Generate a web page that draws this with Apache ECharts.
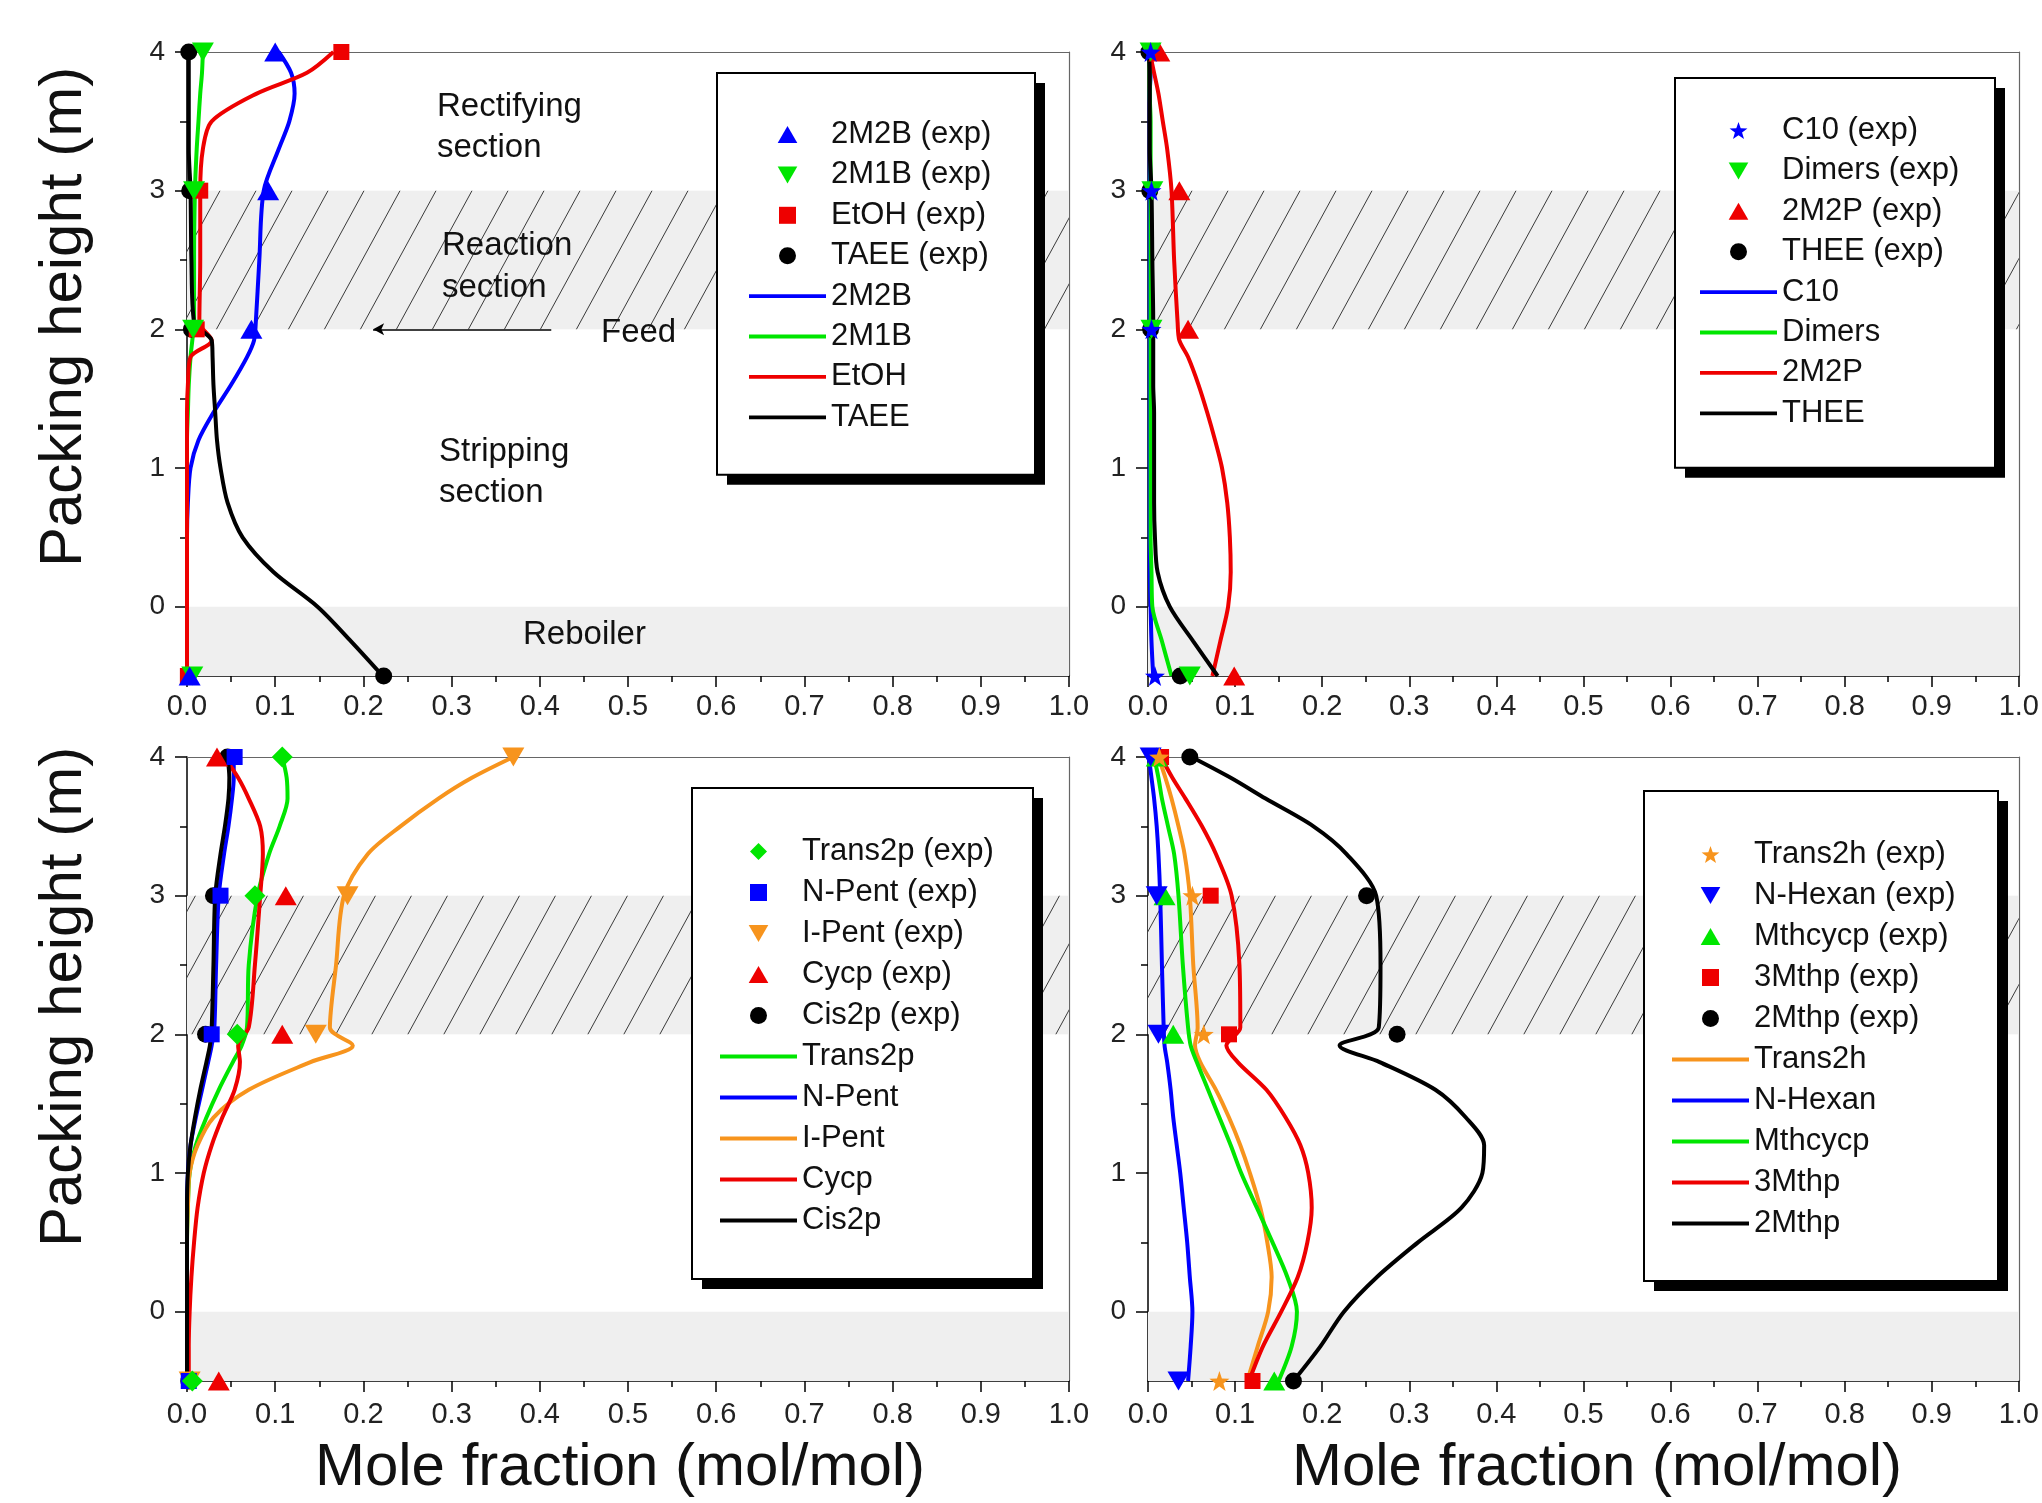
<!DOCTYPE html>
<html>
<head>
<meta charset="utf-8">
<title>Column profiles</title>
<script src="https://cdn.jsdelivr.net/npm/echarts@6/dist/echarts.min.js"></script>
<style>
    html, body { margin: 0; padding: 0; background: #fff; }
    #container { width: 2042px; height: 1503px; }
</style>
</head>
<body>
<div id="container"></div>
<script>
// heights (m) where the simulated profiles are read
var simHeight = [4.0, 3.85, 3.7, 3.5, 3.3, 3.0, 2.5, 2.05, 1.92, 1.8, 1.6, 1.4, 1.2, 1.0, 0.75, 0.5, 0.25, 0.0, -0.25, -0.5];
// sampling heights of the experimental points
var expHeight = [4, 3, 2, -0.5];

// panel 1 (top left)
var sim2M2B = [0.104, 0.118, 0.122, 0.116, 0.104, 0.087, 0.082, 0.078, 0.076, 0.068, 0.050, 0.030, 0.013, 0.004, 0.001, 0, 0, 0, 0, 0];
var sim2M1B = [0.018, 0.017, 0.015, 0.013, 0.011, 0.009, 0.008, 0.008, 0.006, 0.004, 0.002, 0.001, 0, 0, 0, 0, 0, 0, 0, 0];
var simEtOH = [0.166, 0.136, 0.079, 0.028, 0.018, 0.015, 0.015, 0.014, 0.028, 0.004, 0.001, 0, 0, 0, 0, 0, 0, 0, 0, 0];
var simTAEE = [0.002, 0.002, 0.002, 0.002, 0.002, 0.004, 0.005, 0.008, 0.028, 0.029, 0.030, 0.032, 0.034, 0.038, 0.046, 0.063, 0.098, 0.148, 0.186, 0.222];
var exp2M2B = [0.100, 0.092, 0.073, 0.003];
var exp2M1B = [0.018, 0.008, 0.007, 0.006];
var expEtOH = [0.175, 0.015, 0.011, 0.001];
var expTAEE = [0.002, 0.003, 0.005, 0.223];

// panel 2 (top right)
var simC10 = [0.003, 0.003, 0.002, 0.002, 0.002, 0.002, 0.002, 0.002, 0.002, 0.002, 0.002, 0.002, 0.002, 0.002, 0.002, 0.002, 0.002, 0.003, 0.004, 0.006];
var simDimers = [0.002, 0.002, 0.002, 0.003, 0.003, 0.003, 0.003, 0.003, 0.003, 0.003, 0.003, 0.003, 0.003, 0.003, 0.003, 0.003, 0.004, 0.005, 0.016, 0.027];
var sim2M2P = [0.002, 0.007, 0.012, 0.017, 0.022, 0.027, 0.030, 0.034, 0.036, 0.046, 0.058, 0.068, 0.077, 0.085, 0.091, 0.094, 0.095, 0.092, 0.083, 0.074];
var simTHEE = [0.001, 0.002, 0.002, 0.002, 0.002, 0.004, 0.005, 0.006, 0.006, 0.006, 0.006, 0.007, 0.007, 0.007, 0.007, 0.008, 0.011, 0.025, 0.052, 0.080];
var expC10 = [0.003, 0.004, 0.004, 0.008];
var expDimers = [0.003, 0.005, 0.004, 0.048];
var exp2M2P = [0.013, 0.036, 0.046, 0.099];
var expTHEE = [0.001, 0.002, 0.003, 0.037];

// panel 3 (bottom left)
var simTrans2p = [0.108, 0.113, 0.114, 0.105, 0.093, 0.080, 0.070, 0.068, 0.062, 0.052, 0.036, 0.022, 0.010, 0.003, 0.001, 0, 0, 0, 0, 0];
var simNPent = [0.053, 0.053, 0.051, 0.047, 0.042, 0.036, 0.033, 0.031, 0.028, 0.024, 0.017, 0.010, 0.004, 0.001, 0, 0, 0, 0, 0, 0];
var simIPent = [0.370, 0.323, 0.285, 0.242, 0.205, 0.178, 0.169, 0.162, 0.188, 0.140, 0.070, 0.030, 0.012, 0.003, 0.001, 0, 0, 0, 0, 0];
var simCycp = [0.042, 0.058, 0.070, 0.083, 0.086, 0.083, 0.077, 0.070, 0.058, 0.060, 0.054, 0.040, 0.028, 0.019, 0.012, 0.008, 0.005, 0.003, 0.002, 0.002];
var simCis2p = [0.046, 0.048, 0.047, 0.043, 0.038, 0.032, 0.030, 0.028, 0.026, 0.022, 0.015, 0.009, 0.004, 0.001, 0, 0, 0, 0, 0, 0];
var expTrans2p = [0.108, 0.077, 0.057, 0.006];
var expNPent = [0.054, 0.038, 0.028, 0.002];
var expIPent = [0.370, 0.182, 0.146, 0.003];
var expCycp = [0.034, 0.112, 0.108, 0.036];
var expCis2p = [0.046, 0.030, 0.021, 0.002];

// panel 4 (bottom right)
var simTrans2h = [0.012, 0.020, 0.027, 0.035, 0.042, 0.048, 0.052, 0.057, 0.054, 0.060, 0.078, 0.093, 0.106, 0.117, 0.129, 0.137, 0.142, 0.138, 0.126, 0.114];
var simNHexan = [0.001, 0.004, 0.007, 0.010, 0.012, 0.014, 0.016, 0.018, 0.019, 0.022, 0.026, 0.029, 0.033, 0.037, 0.041, 0.045, 0.048, 0.051, 0.049, 0.046];
var simMthcycp = [0.007, 0.012, 0.016, 0.023, 0.030, 0.035, 0.040, 0.046, 0.049, 0.056, 0.069, 0.082, 0.095, 0.107, 0.125, 0.143, 0.160, 0.171, 0.165, 0.150];
var sim3Mthp = [0.015, 0.028, 0.043, 0.062, 0.078, 0.096, 0.105, 0.106, 0.090, 0.103, 0.136, 0.158, 0.175, 0.184, 0.188, 0.183, 0.172, 0.153, 0.132, 0.116];
var sim2Mthp = [0.050, 0.095, 0.135, 0.190, 0.228, 0.262, 0.267, 0.265, 0.220, 0.266, 0.330, 0.365, 0.386, 0.384, 0.360, 0.310, 0.263, 0.225, 0.198, 0.167];
var expTrans2h = [0.013, 0.051, 0.064, 0.082];
var expNHexan = [0.003, 0.010, 0.012, 0.035];
var expMthcycp = [0.010, 0.019, 0.029, 0.145];
var exp3Mthp = [0.015, 0.072, 0.093, 0.120];
var exp2Mthp = [0.048, 0.251, 0.286, 0.167];

// axes
var yTickValues = [0, 1, 2, 3, 4];
var yMinorValues = [0.5, 1.5, 2.5, 3.5];
var reactionZone = [2, 3];
var reboilerZone = [-0.5, 0];
var feedHeight = 2;
var feedArrowX = [0.413, 0.211];

var FONT = 'Liberation Sans, Arial, sans-serif';
var BLUE = '#0000ff', GREEN = '#00e600', RED = '#ee0000', BLACK = '#000000', ORANGE = '#f7941d';
// path symbols keep their aspect in the legend
var SYM_UP = 'path://M10,0L20,17.3L0,17.3Z';
var SYM_DOWN = 'path://M0,0L20,0L10,17.3Z';
var SYM_SQUARE = 'path://M0,0H10V10H0Z';
var SYM_DIAMOND = 'path://M10,0L20,10L10,20L0,10Z';
var SYM_STAR = 'path://M10,0L12.35,6.76L19.51,6.91L13.8,11.24L15.88,18.09L10,14L4.12,18.09L6.2,11.24L0.49,6.91L7.65,6.76Z';
var LINE_ICON = 'path://M0,0H80V4H0Z';

var ITEM_W = 77, ROW_H = 31;

var panels = [
    {
        pos: [187, 52],
        sims: [['2M2B', sim2M2B, BLUE], ['2M1B', sim2M1B, GREEN], ['EtOH', simEtOH, RED], ['TAEE', simTAEE, BLACK]],
        exps: [['2M2B (exp)', exp2M2B, BLUE, SYM_UP, [22, 19]], ['2M1B (exp)', exp2M1B, GREEN, SYM_DOWN, [22, 19]],
               ['EtOH (exp)', expEtOH, RED, SYM_SQUARE, 16], ['TAEE (exp)', expTAEE, BLACK, 'circle', 17]],
        legend: {left: 717, top: 73, padding: [46, 29, 42, 32], textWidth: 175, gap: 9.4}
    },
    {
        pos: [1148, 52],
        sims: [['C10', simC10, BLUE], ['Dimers', simDimers, GREEN], ['2M2P', sim2M2P, RED], ['THEE', simTHEE, BLACK]],
        exps: [['C10 (exp)', expC10, BLUE, SYM_STAR, 20], ['Dimers (exp)', expDimers, GREEN, SYM_DOWN, [22, 19]],
               ['2M2P (exp)', exp2M2P, RED, SYM_UP, [22, 19]], ['THEE (exp)', expTHEE, BLACK, 'circle', 17]],
        legend: {left: 1675, top: 78, padding: [37, 28, 39, 25], textWidth: 185, gap: 9.4}
    },
    {
        pos: [187, 757],
        sims: [['Trans2p', simTrans2p, GREEN], ['N-Pent', simNPent, BLUE], ['I-Pent', simIPent, ORANGE], ['Cycp', simCycp, RED], ['Cis2p', simCis2p, BLACK]],
        exps: [['Trans2p (exp)', expTrans2p, GREEN, SYM_DIAMOND, 21], ['N-Pent (exp)', expNPent, BLUE, SYM_SQUARE, 16],
               ['I-Pent (exp)', expIPent, ORANGE, SYM_DOWN, [22, 19]], ['Cycp (exp)', expCycp, RED, SYM_UP, [22, 19]],
               ['Cis2p (exp)', expCis2p, BLACK, 'circle', 17]],
        legend: {left: 692, top: 788, padding: [48, 31, 43, 28], textWidth: 200, gap: 10}
    },
    {
        pos: [1148, 757],
        sims: [['Trans2h', simTrans2h, ORANGE], ['N-Hexan', simNHexan, BLUE], ['Mthcycp', simMthcycp, GREEN], ['3Mthp', sim3Mthp, RED], ['2Mthp', sim2Mthp, BLACK]],
        exps: [['Trans2h (exp)', expTrans2h, ORANGE, SYM_STAR, 20], ['N-Hexan (exp)', expNHexan, BLUE, SYM_DOWN, [22, 19]],
               ['Mthcycp (exp)', expMthcycp, GREEN, SYM_UP, [22, 19]], ['3Mthp (exp)', exp3Mthp, RED, SYM_SQUARE, 16],
               ['2Mthp (exp)', exp2Mthp, BLACK, 'circle', 17]],
        legend: {left: 1644, top: 791, padding: [48, 30, 42, 28], textWidth: 214, gap: 10}
    }
];

function pairs(xs, ys) {
    var out = [];
    for (var i = 0; i < xs.length; i++) {
        out.push([xs[i], ys[i]]);
    }
    return out;
}

// hatched tile for the reaction section
function makeHatch() {
    var w = 36, h = 66;
    var c = document.createElement('canvas');
    c.width = w;
    c.height = h;
    var g = c.getContext('2d');
    g.fillStyle = '#efefef';
    g.fillRect(0, 0, w, h);
    g.strokeStyle = '#3a3a3a';
    g.lineWidth = 1;
    g.beginPath();
    for (var k = -1; k <= 1; k++) {
        g.moveTo(k * w, h);
        g.lineTo(k * w + w, 0);
    }
    g.stroke();
    return c;
}

var hatch = makeHatch();
var myChart = echarts.init(document.getElementById('container'), null, {renderer: 'canvas'});

var option = {
    animation: false,
    backgroundColor: '#ffffff',
    textStyle: {fontFamily: FONT},
    grid: [],
    xAxis: [],
    yAxis: [],
    legend: [],
    series: [],
    graphic: []
};

panels.forEach(function (p, i) {
    option.grid.push({left: p.pos[0], top: p.pos[1], width: 882, height: 624, show: false});

    // bottom axis + top frame line
    option.xAxis.push({
        gridIndex: i, type: 'value', position: 'bottom', min: 0, max: 1, interval: 0.1,
        axisLine: {onZero: false, lineStyle: {color: '#000', width: 1.5}},
        axisTick: {inside: false, length: 11, lineStyle: {color: '#000', width: 1.5}},
        minorTick: {show: true, splitNumber: 2, length: 6, lineStyle: {color: '#000', width: 1.5}},
        axisLabel: {fontSize: 29, color: '#222', margin: i < 2 ? 16 : 19, formatter: function (v) { return v.toFixed(1); }},
        splitLine: {show: false}, minorSplitLine: {show: false}
    });
    option.xAxis.push({
        gridIndex: i, type: 'value', position: 'top', min: 0, max: 1,
        axisLine: {onZero: false, lineStyle: {color: '#666', width: 1.2}},
        axisTick: {show: false}, axisLabel: {show: false}, splitLine: {show: false}
    });

    // left axis, minor ticks, right frame line
    option.yAxis.push({
        gridIndex: i, type: 'value', position: 'left', min: -0.5, max: 4,
        axisLine: {onZero: false, lineStyle: {color: '#000', width: 1.5}},
        axisTick: {inside: false, length: 12, customValues: yTickValues, lineStyle: {color: '#000', width: 1.5}},
        axisLabel: {fontSize: 28, color: '#222', margin: 22, customValues: yTickValues},
        splitLine: {show: false}
    });
    option.yAxis.push({
        gridIndex: i, type: 'value', position: 'left', min: -0.5, max: 4,
        axisLine: {show: false},
        axisTick: {inside: false, length: 7, customValues: yMinorValues, lineStyle: {color: '#000', width: 1.5}},
        axisLabel: {show: false}, splitLine: {show: false}
    });
    option.yAxis.push({
        gridIndex: i, type: 'value', position: 'right', min: -0.5, max: 4,
        axisLine: {onZero: false, lineStyle: {color: '#666', width: 1.2}},
        axisTick: {show: false}, axisLabel: {show: false}, splitLine: {show: false}
    });

    var xi = 2 * i, yi = 3 * i;

    // shaded zones (reaction section hatched, reboiler plain)
    var bands = {
        name: 'zones' + i, type: 'line', xAxisIndex: xi, yAxisIndex: yi, data: [], silent: true, z: 1,
        markArea: {
            silent: true,
            label: {show: false},
            data: [
                [{yAxis: reactionZone[0], itemStyle: {color: {image: hatch, repeat: 'repeat'}}}, {yAxis: reactionZone[1]}],
                [{yAxis: reboilerZone[0], itemStyle: {color: '#efefef'}}, {yAxis: reboilerZone[1]}]
            ]
        }
    };
    if (i === 0) {
        bands.markLine = {
            silent: true,
            symbol: ['none', 'arrow'],
            symbolSize: [9, 11],
            label: {show: false},
            lineStyle: {color: '#000', width: 1.5, type: 'solid'},
            data: [[{coord: [feedArrowX[0], feedHeight]}, {coord: [feedArrowX[1], feedHeight]}]]
        };
    }
    option.series.push(bands);

    var legendData = [];
    p.exps.forEach(function (e) {
        legendData.push({name: e[0]});
    });
    p.sims.forEach(function (s) {
        legendData.push({name: s[0], icon: LINE_ICON});
    });

    p.sims.forEach(function (s) {
        option.series.push({
            name: s[0], type: 'line', xAxisIndex: xi, yAxisIndex: yi,
            data: pairs(s[1], simHeight),
            symbol: 'none', smooth: 0.3, clip: false, z: 3,
            itemStyle: {color: s[2]},
            lineStyle: {color: s[2], width: 4}
        });
    });
    // reversed so the first legend entry ends on top
    p.exps.slice().reverse().forEach(function (e) {
        option.series.push({
            name: e[0], type: 'scatter', xAxisIndex: xi, yAxisIndex: yi,
            data: pairs(e[1], expHeight),
            symbol: e[3], symbolSize: e[4], clip: false, z: 4,
            itemStyle: {color: e[2], opacity: 1}
        });
    });

    var L = p.legend;
    var rows = legendData.length;
    var boxW = L.padding[3] + ITEM_W + 5 + L.textWidth + L.padding[1];
    var boxH = L.padding[0] + rows * ROW_H + (rows - 1) * L.gap + L.padding[2];

    // drop shadow behind the legend box
    option.graphic.push({
        type: 'rect', x: L.left + 10, y: L.top + 10, z: 3, silent: true,
        shape: {width: boxW, height: boxH},
        style: {fill: '#000'}
    });

    option.legend.push({
        orient: 'vertical',
        left: L.left, top: L.top,
        padding: L.padding,
        itemWidth: ITEM_W, itemHeight: 17, itemGap: L.gap,
        backgroundColor: '#ffffff',
        borderColor: '#000', borderWidth: 2,
        selectedMode: false,
        z: 6,
        textStyle: {fontSize: 31, color: '#111', lineHeight: ROW_H, width: L.textWidth, fontFamily: FONT},
        data: legendData
    });
});

// section annotations in the first panel
var notes = [
    ['Rectifying', 437, 107], ['section', 437, 148],
    ['Reaction', 442, 246], ['section', 442, 288],
    ['Feed', 601, 333],
    ['Stripping', 439, 452], ['section', 439, 493],
    ['Reboiler', 523, 635]
];
notes.forEach(function (n) {
    option.graphic.push({
        type: 'text', x: n[1], y: n[2], silent: true, z: 10,
        style: {text: n[0], fontSize: 33, fontFamily: FONT, fill: '#111', align: 'left', verticalAlign: 'middle'}
    });
});

// axis titles
[[64, 317], [64, 997]].forEach(function (c) {
    option.graphic.push({
        type: 'text', x: c[0], y: c[1], rotation: Math.PI / 2, silent: true,
        style: {text: 'Packing height (m)', fontSize: 60, fontFamily: FONT, fill: '#111', align: 'center', verticalAlign: 'middle'}
    });
});
[[620, 1468], [1597, 1468]].forEach(function (c) {
    option.graphic.push({
        type: 'text', x: c[0], y: c[1], silent: true,
        style: {text: 'Mole fraction (mol/mol)', fontSize: 60, fontFamily: FONT, fill: '#111', align: 'center', verticalAlign: 'middle'}
    });
});

myChart.setOption(option);
</script>
</body>
</html>
